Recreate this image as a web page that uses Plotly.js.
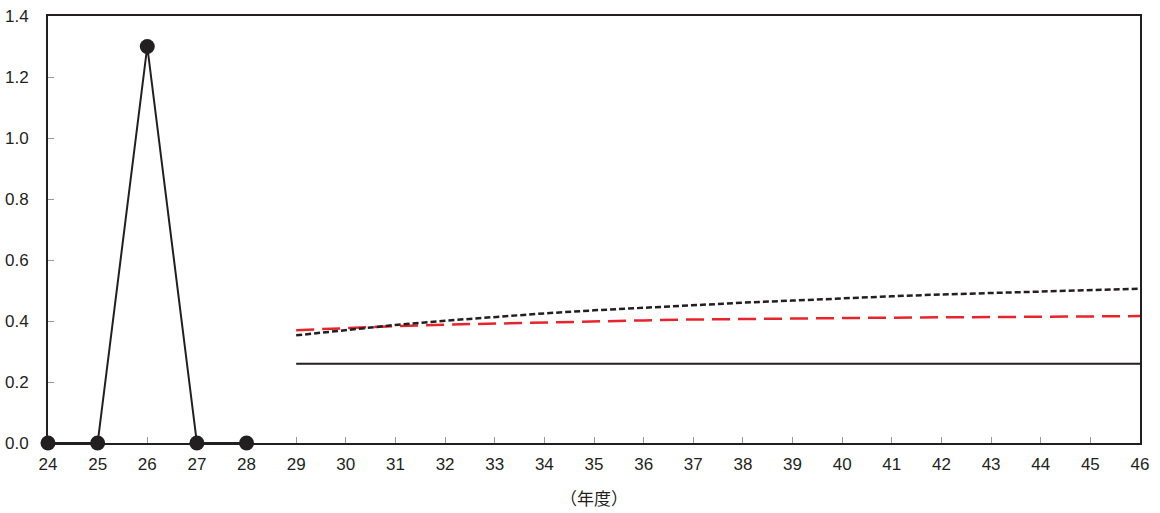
<!DOCTYPE html>
<html>
<head>
<meta charset="utf-8">
<script src="https://cdn.plot.ly/plotly-3.0.1.min.js"></script>
<style>html,body{margin:0;padding:0;background:#fff;}#chart{width:1160px;height:513px;}</style>
</head>
<body>
<div id="chart"></div>
<script>
var actualYears = [24, 25, 26, 27, 28];
var actualValues = [0, 0, 1.3, 0, 0];

var projYears = [29, 30, 31, 32, 33, 34, 35, 36, 37, 38, 39, 40, 41, 42, 43, 44, 45, 46];
var solidValues = [0.26, 0.26, 0.26, 0.26, 0.26, 0.26, 0.26, 0.26, 0.26, 0.26, 0.26, 0.26, 0.26, 0.26, 0.26, 0.26, 0.26, 0.26];
var redValues = [0.370, 0.377, 0.383, 0.388, 0.392, 0.396, 0.399, 0.402, 0.405, 0.407, 0.409, 0.410, 0.411, 0.412, 0.413, 0.414, 0.415, 0.416];
var dottedValues = [0.353, 0.371, 0.387, 0.401, 0.414, 0.425, 0.435, 0.444, 0.452, 0.460, 0.467, 0.475, 0.481, 0.487, 0.492, 0.497, 0.502, 0.506];

var xTicks = [24, 25, 26, 27, 28, 29, 30, 31, 32, 33, 34, 35, 36, 37, 38, 39, 40, 41, 42, 43, 44, 45, 46];
var yTicks = [0, 0.2, 0.4, 0.6, 0.8, 1.0, 1.2, 1.4];
var yTickLabels = ["0.0", "0.2", "0.4", "0.6", "0.8", "1.0", "1.2", "1.4"];
var xTitle = "（年度）";

var dark = "#231f20";
var traces = [
  {x: projYears, y: solidValues, mode: "lines", line: {color: dark, width: 2}, hoverinfo: "skip"},
  {x: projYears, y: redValues, mode: "lines", line: {color: "#e8242b", width: 2.5, dash: "18px,8px"}, hoverinfo: "skip"},
  {x: projYears, y: dottedValues, mode: "lines", line: {color: dark, width: 2.5, dash: "6px,3px"}, hoverinfo: "skip"},
  {x: actualYears, y: actualValues, mode: "lines+markers", line: {color: dark, width: 2}, marker: {color: dark, size: 15}, cliponaxis: false}
];

var layout = {
  width: 1160, height: 513,
  margin: {l: 48, r: 20, t: 16, b: 70},
  showlegend: false,
  paper_bgcolor: "#fff", plot_bgcolor: "#fff",
  font: {family: "Liberation Sans, Arial, sans-serif", color: dark, size: 17},
  xaxis: {
    range: [24, 46], tickvals: xTicks, ticktext: xTicks.map(String),
    ticks: "inside", ticklen: 6, tickcolor: "#999", tickwidth: 1,
    showline: true, linecolor: dark, linewidth: 2, mirror: true,
    showgrid: false, zeroline: false, layer: "below traces",
    ticklabelstandoff: 5,
    tickfont: {size: 17, color: dark},
    title: {text: xTitle, font: {family: "Noto Sans CJK JP, sans-serif", size: 17, color: dark}, standoff: 20}
  },
  yaxis: {
    range: [0, 1.4], tickvals: yTicks, ticktext: yTickLabels,
    ticks: "inside", ticklen: 6, tickcolor: "#999", tickwidth: 1,
    showline: true, linecolor: dark, linewidth: 2, mirror: true,
    showgrid: false, zeroline: false, layer: "below traces",
    ticklabelstandoff: 14,
    tickfont: {size: 17, color: dark}
  }
};
Plotly.newPlot("chart", traces, layout, {staticPlot: true, displayModeBar: false});
</script>
</body>
</html>
